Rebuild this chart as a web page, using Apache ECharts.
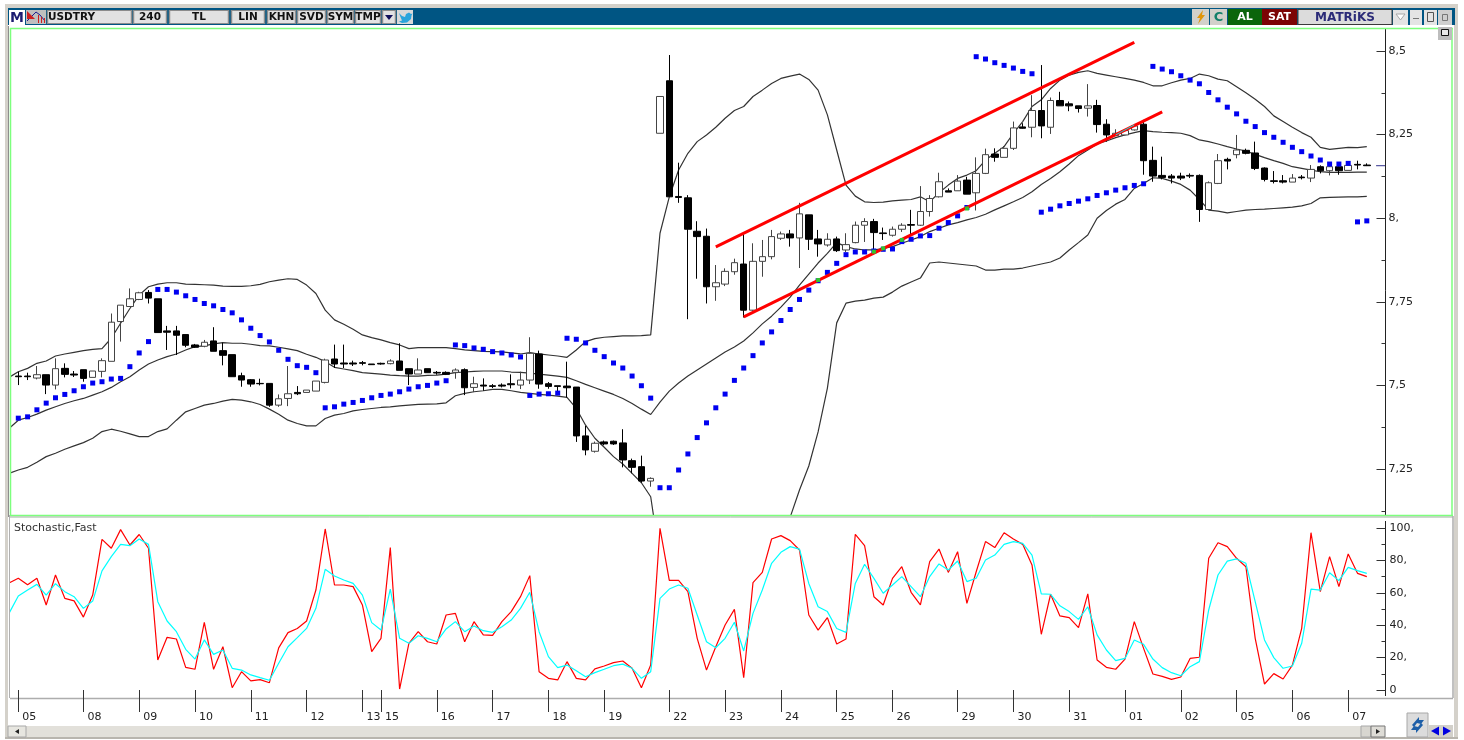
<!DOCTYPE html>
<html>
<head>
<meta charset="utf-8">
<title>USDTRY 240</title>
<style>
  html, body { margin: 0; padding: 0; background: #fff; }
  #main { width: 1464px; height: 740px; }
</style>
<script src="https://cdn.jsdelivr.net/npm/echarts@6/dist/echarts.min.js"></script>
</head>
<body>
<div id="main"></div>
<script>
// day labels and how many 4h bars each one has (first slot is the bar cut off at the left edge)
const dayNames = ['05','08','09','10','11','12','13','15','16','17','18','19','22','23','24','25','26','29','30','31','01','02','05','06','07'];
const dayBars  = [7,6,6,6,6,6,2,6,6,6,6,7,6,6,6,6,7,6,6,6,6,6,6,6,5];

const opens = [null,
  7.528,7.528,7.522,7.532,7.501,7.551,7.534,7.547,7.524,7.542,7.572,7.691,7.736,7.757,7.778,7.759,7.663,7.663,7.652,7.621,
  7.617,7.633,7.604,7.592,7.529,7.517,7.506,7.506,7.441,7.461,7.479,7.479,7.483,7.509,7.579,7.567,7.567,7.568,7.564,7.566,
  7.565,7.573,7.550,7.534,7.550,7.539,7.539,7.539,7.547,7.494,7.501,7.499,7.501,7.505,7.501,7.516,7.594,7.505,7.499,7.498,
  7.495,7.349,7.303,7.331,7.333,7.328,7.275,7.257,7.214,8.254,8.411,8.065,8.061,7.961,7.946,7.795,7.803,7.840,7.863,7.725,
  7.871,7.885,7.940,7.953,7.941,8.010,7.938,7.920,7.938,7.905,7.927,7.979,7.990,7.956,7.949,7.967,7.981,7.979,8.020,8.064,
  8.082,8.082,8.114,8.076,8.134,8.192,8.182,8.209,8.273,8.272,8.322,8.272,8.352,8.342,8.336,8.329,8.337,8.281,8.247,8.249,
  8.264,8.281,8.173,8.128,8.126,8.126,8.128,8.128,8.026,8.104,8.176,8.190,8.203,8.195,8.150,8.112,8.112,8.108,8.123,8.120,
  8.154,8.142,8.154,8.143,8.161,8.159];
const closes = [null,
  7.526,7.526,7.532,7.501,7.550,7.533,7.531,7.521,7.543,7.574,7.689,7.740,7.759,7.777,7.761,7.658,7.659,7.650,7.620,7.614,
  7.629,7.602,7.590,7.526,7.516,7.504,7.505,7.441,7.460,7.475,7.475,7.486,7.513,7.576,7.564,7.564,7.564,7.566,7.562,7.564,
  7.573,7.545,7.534,7.546,7.538,7.537,7.533,7.546,7.493,7.505,7.498,7.497,7.498,7.502,7.516,7.596,7.504,7.497,7.497,7.493,
  7.349,7.307,7.327,7.325,7.325,7.277,7.255,7.214,7.222,8.364,8.064,8.062,7.967,7.945,7.795,7.807,7.841,7.867,7.725,7.871,
  7.885,7.945,7.953,7.941,8.013,7.937,7.923,7.937,7.903,7.921,7.979,7.990,7.957,7.954,7.967,7.979,7.979,8.020,8.059,8.109,
  8.078,8.111,8.072,8.134,8.190,8.182,8.209,8.270,8.269,8.322,8.276,8.352,8.336,8.336,8.328,8.336,8.280,8.249,8.254,8.262,
  8.276,8.172,8.126,8.122,8.120,8.120,8.126,8.026,8.106,8.172,8.171,8.204,8.194,8.149,8.116,8.110,8.108,8.120,8.121,8.146,
  8.142,8.154,8.142,8.158,8.159,8.157];
const highs = [null,
  7.541,7.538,7.558,7.532,7.581,7.566,7.543,7.547,7.543,7.581,7.715,7.740,7.790,7.780,7.785,7.759,7.678,7.678,7.652,7.624,
  7.636,7.674,7.628,7.592,7.538,7.519,7.520,7.506,7.473,7.558,7.498,7.486,7.513,7.580,7.622,7.622,7.574,7.573,7.564,7.568,
  7.578,7.626,7.550,7.581,7.550,7.543,7.542,7.551,7.551,7.526,7.521,7.504,7.506,7.533,7.541,7.644,7.604,7.510,7.499,7.571,
  7.495,7.379,7.332,7.335,7.335,7.369,7.281,7.290,7.225,8.364,8.488,8.166,8.069,7.991,7.969,7.860,7.850,7.879,7.955,7.925,
  7.935,7.965,7.960,7.965,8.046,8.010,7.965,7.955,7.945,7.955,7.990,8.000,7.998,7.972,7.975,7.985,8.025,8.096,8.069,8.136,
  8.089,8.129,8.124,8.182,8.208,8.209,8.216,8.289,8.284,8.368,8.458,8.361,8.378,8.349,8.336,8.401,8.354,8.296,8.266,8.262,
  8.282,8.294,8.214,8.184,8.132,8.136,8.134,8.131,8.110,8.192,8.181,8.249,8.208,8.229,8.152,8.141,8.129,8.132,8.129,8.159,
  8.158,8.159,8.158,8.162,8.172,8.164];
const lows = [null,
  7.501,7.516,7.518,7.474,7.488,7.524,7.525,7.511,7.524,7.524,7.572,7.631,7.736,7.755,7.745,7.658,7.606,7.591,7.614,7.612,
  7.614,7.602,7.560,7.526,7.496,7.496,7.500,7.436,7.436,7.438,7.471,7.479,7.483,7.506,7.552,7.552,7.558,7.560,7.562,7.562,
  7.563,7.545,7.501,7.534,7.538,7.532,7.531,7.520,7.471,7.480,7.484,7.492,7.494,7.491,7.489,7.504,7.490,7.490,7.471,7.464,
  7.331,7.291,7.299,7.321,7.322,7.255,7.237,7.209,7.197,8.254,8.064,8.046,7.698,7.819,7.745,7.753,7.797,7.831,7.703,7.723,
  7.825,7.877,7.935,7.915,7.851,7.905,7.885,7.915,7.899,7.899,7.925,7.929,7.905,7.935,7.945,7.959,7.950,7.977,8.005,8.062,
  8.078,8.082,8.072,8.023,8.132,8.169,8.182,8.204,8.268,8.242,8.239,8.252,8.336,8.320,8.316,8.304,8.256,8.229,8.246,8.249,
  8.262,8.130,8.109,8.116,8.104,8.114,8.120,7.989,8.026,8.102,8.146,8.179,8.191,8.144,8.110,8.104,8.104,8.108,8.116,8.108,
  8.134,8.128,8.130,8.143,8.146,8.156];

// Bollinger
const bandUpper = [7.524,
  7.541,7.551,7.566,7.573,7.588,7.594,7.599,7.604,7.608,7.610,7.641,7.686,7.730,7.770,7.795,7.803,7.807,7.807,7.803,7.802,
  7.801,7.800,7.797,7.796,7.796,7.798,7.802,7.810,7.815,7.819,7.817,7.800,7.775,7.725,7.696,7.683,7.668,7.651,7.643,7.636,
  7.628,7.621,7.610,7.613,7.613,7.613,7.613,7.610,7.606,7.604,7.602,7.601,7.600,7.597,7.594,7.598,7.594,7.591,7.588,7.584,
  7.606,7.631,7.640,7.644,7.646,7.648,7.648,7.649,7.651,7.955,8.064,8.144,8.194,8.229,8.249,8.272,8.299,8.322,8.334,8.364,
  8.383,8.403,8.418,8.425,8.431,8.415,8.383,8.309,8.204,8.099,8.066,8.049,8.047,8.048,8.052,8.054,8.056,8.064,8.049,8.076,
  8.099,8.119,8.129,8.142,8.174,8.194,8.214,8.254,8.289,8.334,8.354,8.388,8.413,8.428,8.436,8.441,8.433,8.428,8.423,8.418,
  8.413,8.406,8.396,8.396,8.405,8.413,8.418,8.431,8.426,8.416,8.411,8.393,8.375,8.356,8.334,8.306,8.289,8.272,8.256,8.242,
  8.212,8.206,8.209,8.212,8.211,8.214];
const bandMiddle = [7.371,
  7.396,7.404,7.414,7.426,7.436,7.446,7.454,7.461,7.471,7.481,7.494,7.511,7.526,7.546,7.564,7.576,7.586,7.594,7.606,7.616,
  7.618,7.624,7.628,7.626,7.626,7.623,7.619,7.618,7.614,7.609,7.604,7.593,7.584,7.571,7.554,7.549,7.544,7.538,7.536,7.534,
  7.531,7.529,7.528,7.528,7.530,7.531,7.534,7.538,7.540,7.542,7.543,7.543,7.543,7.540,7.539,7.537,7.534,7.531,7.528,7.524,
  7.514,7.503,7.493,7.483,7.473,7.461,7.446,7.429,7.413,7.450,7.483,7.507,7.528,7.546,7.564,7.582,7.600,7.615,7.633,7.657,
  7.684,7.707,7.734,7.764,7.800,7.833,7.866,7.895,7.927,7.915,7.908,7.905,7.905,7.910,7.915,7.925,7.935,7.945,7.960,7.970,
  7.980,7.987,7.995,8.002,8.012,8.025,8.037,8.049,8.062,8.079,8.101,8.119,8.139,8.162,8.187,8.204,8.222,8.231,8.241,8.249,
  8.256,8.262,8.259,8.257,8.256,8.254,8.247,8.234,8.229,8.222,8.214,8.207,8.201,8.191,8.181,8.172,8.164,8.154,8.149,8.144,
  8.139,8.137,8.137,8.137,8.138,8.138];
const bandLower = [7.237,
  7.247,7.255,7.270,7.287,7.297,7.309,7.319,7.329,7.342,7.362,7.369,7.363,7.355,7.347,7.347,7.362,7.370,7.396,7.421,7.431,
  7.441,7.446,7.453,7.458,7.456,7.451,7.443,7.429,7.414,7.396,7.386,7.379,7.379,7.401,7.411,7.416,7.424,7.428,7.431,7.434,
  7.436,7.439,7.441,7.443,7.444,7.445,7.448,7.469,7.476,7.481,7.484,7.488,7.488,7.484,7.479,7.476,7.473,7.471,7.468,7.464,
  7.431,7.381,7.342,7.315,7.287,7.265,7.237,7.209,7.167,6.98,6.88,6.80,6.74,6.72,6.72,6.74,6.76,6.79,6.84,6.90,
  6.95,7.01,7.06,7.106,7.187,7.259,7.361,7.492,7.687,7.746,7.752,7.755,7.761,7.764,7.779,7.797,7.809,7.821,7.866,7.869,
  7.866,7.863,7.860,7.857,7.845,7.845,7.848,7.848,7.851,7.857,7.863,7.869,7.881,7.905,7.927,7.950,8.000,8.023,8.042,8.056,
  8.089,8.104,8.121,8.119,8.111,8.101,8.084,8.056,8.024,8.021,8.016,8.020,8.024,8.026,8.027,8.029,8.031,8.033,8.037,8.044,
  8.061,8.062,8.063,8.064,8.064,8.065];

// Parabolic SAR
const sarValues = [null,
  7.402,7.406,7.427,7.447,7.463,7.473,7.484,7.496,7.507,7.511,7.519,7.521,7.556,7.597,7.631,7.787,7.787,7.779,7.768,7.757,
  7.745,7.738,7.727,7.717,7.696,7.671,7.649,7.630,7.605,7.578,7.559,7.554,7.538,7.433,7.436,7.444,7.449,7.455,7.463,7.470,
  7.474,7.481,7.489,7.496,7.500,7.507,7.514,7.621,7.619,7.612,7.608,7.601,7.597,7.591,7.585,7.470,7.474,7.475,7.477,7.641,
  7.638,7.627,7.605,7.586,7.567,7.552,7.528,7.499,7.462,7.194,7.194,7.247,7.295,7.344,7.388,7.433,7.474,7.515,7.552,7.589,
  7.627,7.660,7.694,7.727,7.757,7.785,7.813,7.838,7.865,7.891,7.899,7.899,7.902,7.907,7.908,7.930,7.937,7.947,7.948,7.970,
  7.987,8.007,8.032,8.483,8.476,8.465,8.457,8.449,8.439,8.432,8.018,8.027,8.037,8.044,8.051,8.058,8.068,8.076,8.084,8.091,
  8.098,8.103,8.454,8.446,8.438,8.426,8.413,8.402,8.376,8.354,8.332,8.312,8.290,8.274,8.256,8.242,8.227,8.212,8.199,8.186,
  8.174,8.162,8.162,8.164,7.989,7.992];

// hand drawn channel, [bar slot, price]
const channelUpper = [[76, 7.914], [121, 8.526]];
const channelLower = [[79, 7.705], [124, 8.318]];
const channelDots = [[87, 7.815], [93, 7.900], [94, 7.910], [96, 7.935], [103, 8.029]];
const channelCyan = [[119, 8.249], [121, 8.279]];
const lastClose = [[147, 8.157], [148, 8.157]];

// Stochastic,Fast
const stochK = [66,
  69,65,69,52.5,71,56.6,55,45,58.6,93,87.5,99,89.5,96,87.5,18.5,32.5,31.5,14,12.8,
  41.8,12.8,26.7,1.4,11.3,5.6,6.4,4.5,26,35.4,38,42.6,61.7,99.4,64.8,64.8,63.8,52.5,23.7,31.9,
  87.9,0.6,28.8,36,29.8,28.4,46.3,47.3,29.8,42.2,34,33.7,42.2,48.4,57.6,70.6,11.3,7.2,6.2,17.5,
  7.2,6.2,13,14.8,16.9,17.9,13.4,1.4,15.4,99.8,67.7,67.7,60.7,31.9,12.3,26.7,40.1,49.8,7.6,66.3,
  72.6,93.2,95.3,92.2,86.4,46.3,37,44.7,28.4,31.5,96.1,89.1,57.6,52.5,68.9,76.1,60.3,52.5,79.2,87,
  72.6,85.4,53.5,73,91.6,87.9,97.1,93.2,89.9,77.2,34.4,59.1,45.7,44.7,38.5,59.3,18.5,14,12.8,19.1,
  42.2,25.7,9.9,8.4,6.6,8,19.5,20.2,81.3,90.9,88.5,81.3,76.1,31.9,3.7,10.1,6.8,15.4,38.1,97.1,
  60.7,82.3,63.8,84,72,70];
const stochD = [47.3,
  58,61.7,65.2,58.6,65.6,60.7,57.6,50.4,54.9,73.5,82.3,89.9,89.1,93.2,89.9,54.5,42.6,36,25.1,19.1,
  30.9,22,24.7,13.4,12.3,9.3,7.6,6,16.5,26.7,32.3,38,50.4,74.5,70.4,67.9,65.8,58.6,41.6,37,
  62.3,31.9,28.8,33.5,31.9,29.8,37.7,42.2,36,39.5,36.6,35.6,39,43.2,50.4,60.3,36,20.6,13.8,15.4,
  11.9,8.2,10.7,12.8,15,16,13.4,7.2,11.3,56.6,62.3,64.8,62.8,46.3,29.8,26.1,31.9,41.8,24.1,47.3,
  61.7,78.2,85,88.5,87,65.8,51.4,48.4,38,35.6,65.8,77.6,68.9,59.7,64.8,70,63.8,57.6,70,77.8,
  74,79.6,66.9,69,80.2,83.3,89.9,91.6,90.5,83.3,59.3,59.1,52,48.4,43.6,51.4,34,24.7,18.1,19.5,
  30.9,28.2,19.1,13.8,10.7,8.8,14.4,17.5,49.4,71,79.6,80.9,78.2,54.5,30.9,20,13.4,14.8,28.8,62.3,
  61.7,72.4,67.5,75.7,73.7,72];
const stochLevels = [80, 20];

const priceTicks = [7.25, 7.5, 7.75, 8, 8.25, 8.5];
const priceTickLabels = ['7,25', '7,5', '7,75', '8,', '8,25', '8,5'];
const stochTicks = [0, 20, 40, 60, 80, 100];
const stochTickLabels = ['0', '20,', '40,', '60,', '80,', '100,'];

// category per bar slot, label only on the first bar of a day
var categories = [''];
dayNames.forEach(function (d, i) {
  categories.push(d);
  for (var j = 1; j < dayBars[i]; j++) categories.push('');
});
while (categories.length < 149) categories.push('');

var candleData = opens.map(function (o, i) {
  return o === null ? ['-', '-', '-', '-'] : [o, closes[i], lows[i], highs[i]];
});

const FONT = '"DejaVu Sans", sans-serif';

function rect(x, y, w, h, fill, z, stroke) {
  return { type: 'rect', z: z, silent: true, shape: { x: x, y: y, width: w, height: h },
    style: { fill: fill, stroke: stroke || null, lineWidth: stroke ? 1 : 0 } };
}
function hline(x1, y1, x2, y2, color, z, w) {
  return { type: 'line', z: z, silent: true, shape: { x1: x1, y1: y1, x2: x2, y2: y2 },
    style: { stroke: color, lineWidth: w || 1 } };
}
function label(x, y, str, color, font, z, align) {
  return { type: 'text', z: z, silent: true, x: x, y: y,
    style: { text: str, fill: color, font: font, textAlign: align || 'center', textVerticalAlign: 'middle' } };
}
function poly(points, fill, z) {
  return { type: 'polygon', z: z, silent: true, shape: { points: points }, style: { fill: fill } };
}
function button(x, w, str) {
  return [
    rect(x, 10, w, 14, '#e2e2e2', 31),
    hline(x, 10.5, x + w, 10.5, '#8c8c8c', 32),
    hline(x, 23.5, x + w, 23.5, '#8c8c8c', 32),
    hline(x + 0.5, 10, x + 0.5, 24, '#8c8c8c', 32, 1.5),
    hline(x + w - 0.5, 10, x + w - 0.5, 24, '#8c8c8c', 32, 1.5),
    label(x + w / 2, 17.5, str, '#111', 'bold 10.5px ' + FONT, 33)
  ];
}

var chrome = [
  // stochastic panel covers whatever the price panel draws below it
  rect(8, 516, 1445, 182, '#fff', 10),
  hline(10, 515.5, 1453, 515.5, '#7dff7d', 11, 1.5),
  hline(8, 517, 1453, 517, '#9fb09f', 11),
  hline(8, 698.5, 1453, 698.5, '#adadad', 11, 1.5),
  // right of the axis, over the level lines
  rect(1386, 518, 66, 179, '#fff', 25),
  hline(1385.5, 521, 1385.5, 528, '#222', 26),
  hline(1385.5, 690, 1385.5, 696, '#222', 26),
  label(14, 528, 'Stochastic,Fast', '#333', '11px ' + FONT, 26, 'left'),

  // window frame
  rect(0, 0, 1464, 28, '#fff', 30),
  rect(0, 0, 10, 740, '#fff', 30),
  rect(1454, 0, 10, 740, '#fff', 30),
  rect(0, 737, 1464, 3, '#fff', 30),
  rect(5, 4, 3, 734, '#d4d1ca', 31),
  rect(1454, 4, 4, 734, '#d4d1ca', 31),
  rect(5, 4, 1453, 5, '#d4d1ca', 31),
  rect(5, 737, 1453, 2, '#b8b5ae', 31),
  hline(8.5, 26, 8.5, 517, '#8e8e8e', 31),
  hline(9.5, 515, 9.5, 698, '#b0b0b0', 31),
  hline(10.5, 28, 10.5, 515, '#7dff7d', 31, 1.5),
  hline(1452, 28, 1452, 515, '#7dff7d', 31, 1.5),
  hline(1453, 516, 1453, 698, '#adadad', 31, 1.5),
  hline(10, 28.5, 1453, 28.5, '#7dff7d', 31, 1.5),
  rect(8, 8, 1447, 17, '#005583', 31),

  // left of the toolbar
  rect(9, 10, 16, 15, '#fff', 32),
  label(17, 18, 'M', '#1c1c70', 'bold 14px ' + FONT, 33),
  rect(26, 10, 20, 14, '#bfbfbf', 32),
  { type: 'polyline', z: 33, silent: true, shape: { points: [[27, 21], [32, 16], [36, 12], [40, 15], [45, 21]] }, style: { stroke: '#1c1c90', fill: null, lineWidth: 1 } },
  poly([[27, 11], [27, 19], [35, 19]], '#cc2020', 33),
  hline(38.5, 15, 38.5, 23, '#cc2020', 33),
  hline(41.5, 17, 41.5, 23, '#cc2020', 33),
  hline(44.5, 18, 44.5, 23, '#cc2020', 33)
]
  .concat(button(47, 85, ''))
  .concat([label(48, 17.5, 'USDTRY', '#111', 'bold 10.5px ' + FONT, 33, 'left')])
  .concat(button(133, 34, '240'))
  .concat(button(169, 60, 'TL'))
  .concat(button(231, 34, 'LIN'))
  .concat(button(267, 29, 'KHN'))
  .concat(button(297, 29, 'SVD'))
  .concat(button(327, 27, 'SYM'))
  .concat(button(355, 26, 'TMP'))
  .concat(button(382, 14, ''))
  .concat([
    poly([[385, 15], [393, 15], [389, 20]], '#10105a', 34),
    rect(397, 10, 16, 14, '#d9d9d9', 32),
    poly([[399, 13], [402, 16], [405, 17], [406, 14], [409, 12.5], [411, 14], [412.5, 13.5], [411.5, 15.5], [411, 19], [407, 22.5], [402, 23], [399, 21.5], [402, 20.5], [400.5, 17]], '#29a4dc', 33),

    // right of the toolbar
    rect(1192, 9, 17, 16, '#d2d0ca', 32),
    poly([[1203, 10], [1197, 18], [1200, 18], [1198, 24], [1205, 15], [1202, 15]], '#e0950a', 33),
    rect(1210, 9, 17, 16, '#d2d0ca', 32),
    label(1218.5, 17.5, 'C', '#13806a', 'bold 13px ' + FONT, 33),
    rect(1228, 9, 34, 16, '#0b650b', 32),
    label(1245, 17.5, 'AL', '#fff', 'bold 11px ' + FONT, 33),
    rect(1262, 9, 35, 16, '#7c0404', 32),
    label(1279.5, 17.5, 'SAT', '#fff', 'bold 11px ' + FONT, 33),
    rect(1298, 9.5, 94, 15, '#dcdcdc', 32, '#3a3a3a'),
    label(1345, 17.5, 'MATRiKS', '#2b2b78', 'bold 12px ' + FONT, 33),
    rect(1393, 10, 15, 15, '#e4e4e4', 32),
    { type: 'polygon', z: 33, silent: true, shape: { points: [[1396, 14], [1405, 14], [1400.5, 20]] }, style: { fill: '#fff', stroke: '#a8a8a8' } },
    rect(1410, 10, 12, 15, '#e4e4e4', 32),
    hline(1413, 18.5, 1419, 18.5, '#777', 33),
    rect(1424, 10, 13, 15, '#e4e4e4', 32),
    rect(1427.5, 12.5, 6, 9, '#e4e4e4', 33, '#555'),
    rect(1438, 10, 14, 15, '#cfcfcf', 32),
    rect(1442.5, 14.5, 5, 6, '#cfcfcf', 33, '#777'),
    // restore button
    rect(1438, 27, 14, 13, '#bdbdbd', 32),
    rect(1441.5, 29.5, 7, 6, '#e8e8e8', 33, '#111'),

    // scroll bar
    rect(10, 726, 1375, 11, '#e2e0da', 31),
    rect(8, 726, 18, 11, '#e7e6e0', 32, '#a8a8a8'),
    poly([[15, 731.5], [19, 729], [19, 734]], '#222', 33),
    rect(1361, 726, 10, 11, '#d8d6d0', 32, '#a8a8a8'),
    rect(1371, 726, 14, 11, '#dedcd6', 32, '#777'),
    poly([[1380, 731.5], [1376, 729], [1376, 734]], '#222', 33),

    // sync and nav buttons
    rect(1407, 713, 21, 24, '#dcdcdc', 32, '#a8a8a8'),
    poly([[1412, 725], [1419, 717], [1419, 720], [1424, 720], [1421, 724], [1417, 723], [1414, 727]], '#1d5fa8', 33),
    poly([[1423, 725], [1416, 733], [1416, 730], [1411, 730], [1414, 726], [1418, 727], [1421, 723]], '#1d5fa8', 33),
    rect(1429, 725, 12, 12, '#d2d0ca', 32),
    poly([[1431, 731], [1439, 726.5], [1439, 735.5]], '#0000e0', 33),
    rect(1441, 725, 12, 12, '#d2d0ca', 32),
    poly([[1451, 731], [1443, 726.5], [1443, 735.5]], '#0000e0', 33)
  ]);

function lineSeries(name, data, color, width, axis, z) {
  return {
    name: name, type: 'line', data: data, xAxisIndex: axis, yAxisIndex: axis, z: z,
    showSymbol: false, smooth: false, silent: true, animation: false,
    lineStyle: { color: color, width: width }
  };
}

var option = {
  animation: false,
  backgroundColor: '#fff',
  grid: [
    // 0.25 = 83.6px; the part below the panel (down to 7.0) is covered by the stochastic panel
    { left: 4.35, width: 1385.7, top: 28, height: 524.6 },
    { left: 4.35, width: 1385.7, top: 528, height: 162 }
  ],
  xAxis: [
    { type: 'category', gridIndex: 0, data: categories, show: false, boundaryGap: true },
    {
      type: 'category', gridIndex: 1, data: categories, boundaryGap: true, position: 'bottom', offset: 13, z: 26,
      axisLine: { show: false },
      axisTick: { show: true, alignWithLabel: true, length: 22, lineStyle: { color: '#333' },
        interval: function (i) { return categories[i] !== ''; } },
      axisLabel: { show: true, color: '#222', fontFamily: 'DejaVu Sans', fontSize: 11, margin: 9, align: 'left', padding: [0, 0, 0, 4],
        hideOverlap: false,
        interval: function (i) { return categories[i] !== ''; } }
    }
  ],
  yAxis: [
    {
      type: 'value', gridIndex: 0, position: 'right', offset: -4.55, min: 7, max: 8.5688, interval: 0.25, z: 7,
      splitLine: { show: false },
      axisLine: { show: true, onZero: false, lineStyle: { color: '#222' } },
      axisTick: { show: true, inside: true, length: 9, lineStyle: { color: '#333' } },
      minorTick: { show: true, splitNumber: 2, length: 4, lineStyle: { color: '#333' } },
      axisLabel: { color: '#222', fontFamily: 'DejaVu Sans', fontSize: 11, margin: 3,
        formatter: function (v) { var i = priceTicks.indexOf(v); return i < 0 ? '' : priceTickLabels[i]; } }
    },
    {
      type: 'value', gridIndex: 1, position: 'right', offset: -4.55, min: 0, max: 100, interval: 20, z: 26,
      splitLine: { show: false },
      axisLine: { show: true, onZero: false, lineStyle: { color: '#222' } },
      axisTick: { show: true, inside: true, length: 9, lineStyle: { color: '#333' } },
      minorTick: { show: true, splitNumber: 2, length: 4, lineStyle: { color: '#333' } },
      axisLabel: { color: '#222', fontFamily: 'DejaVu Sans', fontSize: 11, margin: 4,
        formatter: function (v) { var i = stochTicks.indexOf(v); return i < 0 ? '' : stochTickLabels[i]; } }
    }
  ],
  graphic: { elements: chrome },
  series: [
    lineSeries('BB Upper', bandUpper, '#333', 1.2, 0, 2),
    lineSeries('BB Middle', bandMiddle, '#333', 1.2, 0, 2),
    lineSeries('BB Lower', bandLower, '#333', 1.2, 0, 2),
    {
      name: 'USDTRY', type: 'candlestick', data: candleData, xAxisIndex: 0, yAxisIndex: 0, z: 3,
      barWidth: 7, silent: true, animation: false,
      itemStyle: { color: '#fff', color0: '#000', borderColor: '#444', borderColor0: '#000', borderWidth: 1 }
    },
    {
      name: 'SAR', type: 'scatter', data: sarValues, xAxisIndex: 0, yAxisIndex: 0, z: 4,
      symbol: 'rect', symbolSize: 5, silent: true, animation: false,
      itemStyle: { color: '#0000f0', opacity: 1 }
    },
    lineSeries('Channel upper', channelUpper, '#ff0000', 3, 0, 5),
    lineSeries('Channel lower', channelLower, '#ff0000', 3, 0, 5),
    {
      name: 'Channel dots', type: 'scatter', data: channelDots, xAxisIndex: 0, yAxisIndex: 0, z: 6,
      symbol: 'rect', symbolSize: 4, silent: true, animation: false,
      itemStyle: { color: '#2fc52f', opacity: 1 }
    },
    lineSeries('Channel cyan', channelCyan, '#19d8d8', 1, 0, 6),
    lineSeries('Last', lastClose, '#30308c', 1, 0, 6),
    Object.assign(lineSeries('%K', stochK, '#ff0000', 1.2, 1, 20), {
      markLine: {
        silent: true, symbol: 'none', animation: false, label: { show: false },
        data: [
          { yAxis: stochLevels[0], lineStyle: { color: '#8c1010', width: 1.5, type: 'solid' } },
          { yAxis: stochLevels[1], lineStyle: { color: '#2f9a2f', width: 1.5, type: 'solid' } }
        ]
      }
    }),
    lineSeries('%D', stochD, '#00ffff', 1.2, 1, 21)
  ]
};

var chart = echarts.init(document.getElementById('main'), null, { renderer: 'canvas' });
chart.setOption(option);
</script>
</body>
</html>
